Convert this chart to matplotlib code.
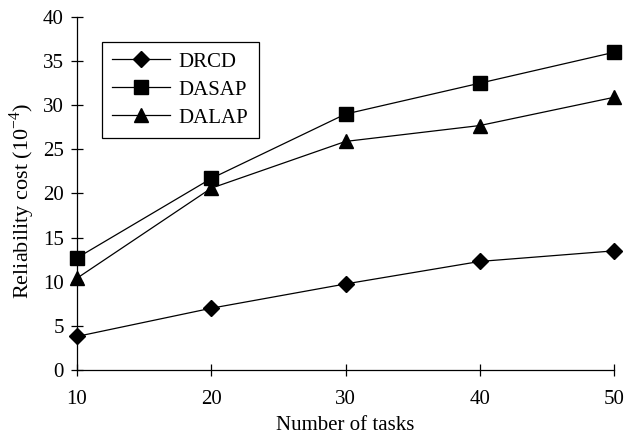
import matplotlib
matplotlib.use("Agg")
import matplotlib.pyplot as plt

tasks = [10, 20, 30, 40, 50]
drcd = [3.8, 7.0, 9.75, 12.3, 13.5]
dasap = [12.7, 21.7, 29.0, 32.5, 36.0]
dalap = [10.4, 20.6, 25.9, 27.7, 30.9]

plt.rcParams['font.family'] = ['Liberation Serif', 'DejaVu Serif']
plt.rcParams['mathtext.fontset'] = 'custom'
plt.rcParams['mathtext.rm'] = 'Liberation Serif'

fig = plt.figure(figsize=(6.24, 4.36), dpi=100)
ax = fig.add_axes([0.1234, 0.1514, 0.8606, 0.8096])

ax.plot(tasks, drcd, color='black', lw=0.9, marker='D', ms=8, label='DRCD', clip_on=False)
ax.plot(tasks, dasap, color='black', lw=0.9, marker='s', ms=10, label='DASAP', clip_on=False)
ax.plot(tasks, dalap, color='black', lw=0.9, marker='^', ms=10, label='DALAP', clip_on=False)

ax.set_xlim(10, 50)
ax.set_ylim(0, 40)
ax.set_xticks(tasks)
ax.set_yticks(range(0, 41, 5))
ax.spines['top'].set_visible(False)
ax.spines['right'].set_visible(False)
for s in ['left', 'bottom']:
    ax.spines[s].set_linewidth(0.9)
ax.tick_params(direction='inout', length=9, width=0.9, labelsize=15)
ax.tick_params(axis='x', pad=10)
ax.tick_params(axis='y', pad=5)

ax.set_xlabel('Number of tasks', fontsize=15, labelpad=5)
ax.set_ylabel(r'Reliability cost (10$^{-4}$)', fontsize=16)
ax.yaxis.set_label_coords(-0.075, 0.479)

leg = ax.legend(loc='upper left', bbox_to_anchor=(0.046, 0.93), borderaxespad=0,
                fontsize=15, fancybox=False, edgecolor='black', framealpha=1,
                handlelength=2.8, handletextpad=0.4, borderpad=0.5,
                labelspacing=0.4)
leg.get_frame().set_linewidth(0.9)

fig.savefig('out.png', dpi=100)
